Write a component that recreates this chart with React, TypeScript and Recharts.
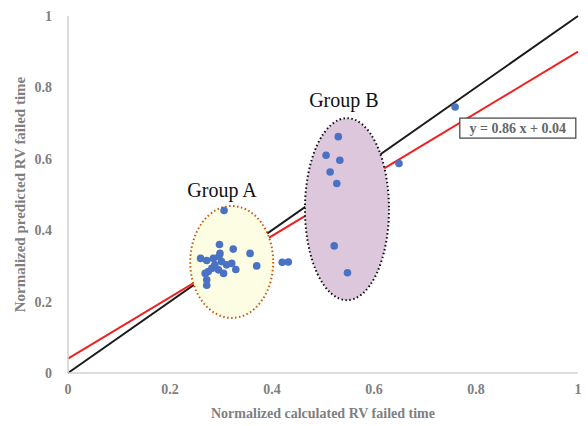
import { ScatterChart, Scatter, XAxis, YAxis, ReferenceLine, ReferenceDot, Label } from 'recharts'

// points
const groupAX = [0.306, 0.297, 0.324, 0.357, 0.26, 0.272, 0.37, 0.329, 0.321, 0.298, 0.296, 0.301, 0.288, 0.282, 0.295, 0.305, 0.275, 0.269, 0.272, 0.272, 0.311, 0.285]
const groupAY = [0.455, 0.36, 0.347, 0.335, 0.321, 0.315, 0.3, 0.29, 0.307, 0.335, 0.326, 0.312, 0.303, 0.293, 0.289, 0.279, 0.284, 0.279, 0.261, 0.246, 0.303, 0.321]
const groupBX = [0.53, 0.506, 0.533, 0.514, 0.527, 0.522, 0.548]
const groupBY = [0.662, 0.61, 0.596, 0.563, 0.531, 0.356, 0.281]
const otherX = [0.42, 0.432, 0.649, 0.759]
const otherY = [0.31, 0.311, 0.587, 0.745]

const ticks = [0, 0.2, 0.4, 0.6, 0.8, 1]
const slope = 0.86
const intercept = 0.04

const toPoints = (xs: number[], ys: number[]) => xs.map((x, i) => ({ x, y: ys[i] }))
const points = [
  ...toPoints(groupAX, groupAY),
  ...toPoints(groupBX, groupBY),
  ...toPoints(otherX, otherY),
]

const serif = 'Liberation Serif, DejaVu Serif, serif'
const tickStyle = { fill: '#7f7f7f', fontSize: 14, fontWeight: 700, fontFamily: serif }

const ellipse = (rx: number, ry: number, fill: string, stroke: string) => (p: any) => (
  <ellipse cx={p.cx} cy={p.cy} rx={rx} ry={ry} fill={fill} stroke={stroke} strokeWidth={2} strokeDasharray="1.5 2.5" />
)

const groupText = (text: string) => (p: any) => (
  <text x={p.cx} y={p.cy} textAnchor="middle" dominantBaseline="central" fontFamily={serif} fontWeight={400} fontSize={20} fill="#111">
    {text}
  </text>
)

const eqBox = (p: any) => (
  <g>
    <rect x={p.cx - 58} y={p.cy - 10} width={116} height={20} fill="#fff" stroke="#404040" strokeWidth={1.2} />
    <text x={p.cx} y={p.cy} textAnchor="middle" dominantBaseline="central" fontFamily={serif} fontSize={14} fontWeight={700} fill="#666">
      {`y = ${slope} x + ${intercept}`}
    </text>
  </g>
)

const yTitle = (props: any) => {
  const vb = props.viewBox || {}
  const cy = (vb.y ?? 16) + (vb.height ?? 357) / 2
  return (
    <text x={20} y={cy} transform={`rotate(-90, 20, ${cy})`} textAnchor="middle" dominantBaseline="central" fontFamily={serif} fontSize={15} fontWeight={700} fill="#7f7f7f">
      Normalized predicted RV failed time
    </text>
  )
}

export default function App() {
  return (
    <div style={{ position: 'absolute', left: 0, top: 0, background: '#fff', fontFamily: serif }}>
      <ScatterChart width={588} height={426} margin={{ top: 16, right: 10, left: 0, bottom: 0 }}>
        <XAxis
          type="number"
          dataKey="x"
          domain={[0, 1]}
          ticks={ticks}
          tickLine={false}
          axisLine={{ stroke: '#d0d0d0', strokeWidth: 1.5 }}
          tick={tickStyle}
          tickMargin={5}
          height={53}
          tickFormatter={(v: number) => String(v)}
        >
          <Label value="Normalized calculated RV failed time" position="insideBottom" offset={8} style={{ fill: '#7f7f7f', fontSize: 14, fontWeight: 700, fontFamily: serif }} />
        </XAxis>
        <YAxis
          type="number"
          dataKey="y"
          domain={[0, 1]}
          ticks={ticks}
          tickLine={false}
          axisLine={{ stroke: '#d0d0d0', strokeWidth: 1.5 }}
          tick={tickStyle}
          tickMargin={10}
          width={68}
          tickFormatter={(v: number) => String(v)}
        >
          <Label content={yTitle} />
        </YAxis>
        <ReferenceDot x={0.321} y={0.311} r={0} shape={ellipse(41.5, 56, '#fdfde3', '#c55a11')} />
        <ReferenceDot x={0.547} y={0.459} r={0} shape={ellipse(42, 91, '#dcc7dc', '#111')} />
        <ReferenceLine segment={[{ x: 0, y: 0 }, { x: 1, y: 1 }]} stroke="#1a1a1a" strokeWidth={2} />
        <ReferenceLine segment={[{ x: 0, y: intercept }, { x: 1, y: slope + intercept }]} stroke="#ee2222" strokeWidth={2} />
        <Scatter data={points} fill="#4472c4" isAnimationActive={false} shape={(p: any) => <circle cx={p.cx} cy={p.cy} r={3.8} fill="#4a72c4" />} />
        <ReferenceDot x={0.302} y={0.513} r={0} shape={groupText('Group A')} />
        <ReferenceDot x={0.541} y={0.765} r={0} shape={groupText('Group B')} />
        <ReferenceDot x={0.882} y={0.686} r={0} shape={eqBox} />
      </ScatterChart>
    </div>
  )
}
